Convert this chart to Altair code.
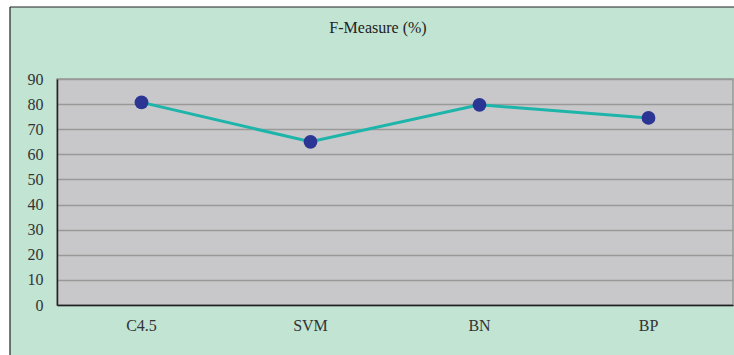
import altair as alt
import pandas as pd

models = ["C4.5", "SVM", "BN", "BP"]
f_measure = [80.7, 65.0, 79.7, 74.5]
y_ticks = [0, 10, 20, 30, 40, 50, 60, 70, 80, 90]
title_text = ["F-Measure (%)"]

df = pd.DataFrame({"model": models, "value": f_measure})
one = pd.DataFrame({"k": [0]})
tdf = pd.DataFrame({"t": title_text})

FONT = "Liberation Serif"

x_enc = alt.X(
    "model:N",
    sort=models,
    bandPosition=0.5,
    scale=alt.Scale(type="band", paddingInner=0, paddingOuter=0),
    axis=alt.Axis(
        title=None, labelAngle=0, labelFont=FONT, labelFontSize=16,
        labelColor="#333333", labelPadding=12, tickSize=0,
        domainColor="#222222", domainWidth=1.5, grid=False,
    ),
)
y_enc = alt.Y(
    "value:Q",
    scale=alt.Scale(domain=[0, 90], nice=False),
    axis=alt.Axis(
        title=None, values=y_ticks, labelFont=FONT, labelFontSize=16,
        labelColor="#333333", labelPadding=14, tickSize=0,
        domainColor="#222222", domainWidth=1.5,
        grid=True, gridColor="#999999", gridWidth=1.5,
    ),
)

line = alt.Chart(df).mark_line(color="#1db5aa", strokeWidth=3).encode(x=x_enc, y=y_enc)
pts = alt.Chart(df).mark_point(filled=True, color="#2b3593", size=190, opacity=1).encode(x=x_enc, y=y_enc)

# white margin strips and frame border outside the plot area
strip_left = alt.Chart(one).mark_rect(color="white").encode(
    x=alt.value(-57), x2=alt.value(-47), y=alt.value(-79), y2=alt.value(276))
strip_top = alt.Chart(one).mark_rect(color="white").encode(
    x=alt.value(-57), x2=alt.value(677), y=alt.value(-79), y2=alt.value(-72))
border_v = alt.Chart(one).mark_rule(color="#222222", strokeWidth=1.2).encode(
    x=alt.value(-47), y=alt.value(-72), y2=alt.value(276))
border_h = alt.Chart(one).mark_rule(color="#222222", strokeWidth=1.2).encode(
    x=alt.value(-47), x2=alt.value(677), y=alt.value(-72))

title = alt.Chart(tdf).mark_text(
    font=FONT, fontSize=16, color="#222222", align="center", baseline="middle"
).encode(text="t:N", x=alt.value(321), y=alt.value(-51))

chart = alt.layer(strip_left, strip_top, border_v, border_h, title, line, pts).properties(
    width=676,
    height=226,
    autosize=alt.AutoSizeParams(type="none"),
    padding={"left": 57, "top": 79, "right": 1, "bottom": 50},
    background="#c1e4d3",
).configure_view(
    fill="#c8c8ca", stroke="#999999", strokeWidth=1.5
)

chart.save("out.html", embed_options={"renderer": "svg", "actions": False})
